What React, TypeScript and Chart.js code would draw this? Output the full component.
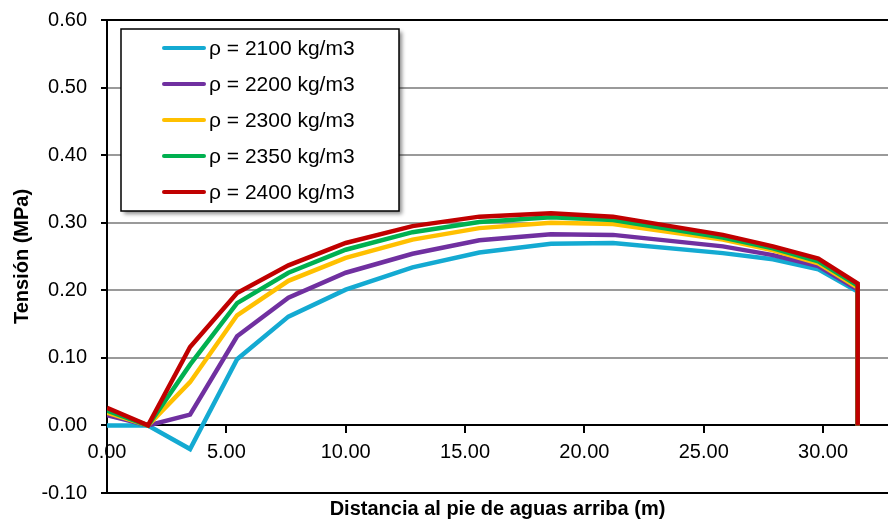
import React, { useEffect, useRef } from "react";
import { Chart, registerables } from "chart.js";

Chart.register(...registerables);

const xValues = [0, 1.72, 3.48, 5.45, 7.6, 10.0, 12.8, 15.6, 18.6, 21.2, 25.8, 27.9, 29.8, 31.45, 31.45];
const rho2100 = [0, 0, -0.035, 0.098, 0.161, 0.201, 0.234, 0.256, 0.269, 0.27, 0.255, 0.246, 0.231, 0.198, 0];
const rho2200 = [0.015, 0, 0.016, 0.132, 0.189, 0.226, 0.254, 0.274, 0.283, 0.282, 0.265, 0.252, 0.236, 0.201, 0];
const rho2300 = [0.019, 0, 0.064, 0.163, 0.214, 0.248, 0.275, 0.292, 0.3, 0.298, 0.275, 0.259, 0.24, 0.204, 0];
const rho2350 = [0.022, 0, 0.09, 0.181, 0.226, 0.26, 0.286, 0.301, 0.308, 0.304, 0.278, 0.262, 0.243, 0.207, 0];
const rho2400 = [0.026, 0, 0.116, 0.196, 0.237, 0.27, 0.295, 0.309, 0.314, 0.309, 0.282, 0.265, 0.247, 0.21, 0];

const seriesLabels = ["ρ = 2100 kg/m3", "ρ = 2200 kg/m3", "ρ = 2300 kg/m3", "ρ = 2350 kg/m3", "ρ = 2400 kg/m3"];
const seriesValues = [rho2100, rho2200, rho2300, rho2350, rho2400];
const seriesColors = ["#14AAD2", "#7030A0", "#FFC000", "#00B050", "#C00000"];

const yTitle = "Tensión (MPa)";
const xTitle = "Distancia al pie de aguas arriba (m)";

const FONT = "'Liberation Sans', Arial, sans-serif";

const fmt = (v: any) => {
  const n = Number(v);
  return (Math.abs(n) < 1e-9 ? 0 : n).toFixed(2);
};

const legendBoxPlugin = {
  id: "legendBox",
  afterDatasetsDraw(chart: any) {
    const ctx = chart.ctx;
    const bx = 121, by = 29, bw = 278, bh = 182;
    ctx.save();
    ctx.shadowColor = "rgba(0,0,0,0.45)";
    ctx.shadowBlur = 4;
    ctx.shadowOffsetX = 3;
    ctx.shadowOffsetY = 3;
    ctx.fillStyle = "#ffffff";
    ctx.fillRect(bx, by, bw, bh);
    ctx.shadowColor = "transparent";
    ctx.lineWidth = 1.5;
    ctx.strokeStyle = "#000";
    ctx.strokeRect(bx, by, bw, bh);
    ctx.font = `21px ${FONT}`;
    ctx.textBaseline = "middle";
    ctx.textAlign = "left";
    chart.data.datasets.forEach((ds: any, i: number) => {
      const y = 48 + i * 36;
      ctx.strokeStyle = ds.borderColor;
      ctx.lineWidth = 4;
      ctx.lineCap = "round";
      ctx.beginPath();
      ctx.moveTo(164, y);
      ctx.lineTo(204, y);
      ctx.stroke();
      ctx.fillStyle = "#000";
      ctx.fillText(ds.label, 209, y + 1);
    });
    ctx.restore();
  },
};

export default function App() {
  const ref = useRef<HTMLCanvasElement>(null);
  useEffect(() => {
    if (!ref.current) return;
    const chart = new Chart(ref.current, {
      type: "line",
      data: {
        datasets: seriesValues.map((vals, i) => ({
          label: seriesLabels[i],
          data: xValues.map((x, j) => ({ x, y: vals[j] })),
          borderColor: seriesColors[i],
          backgroundColor: seriesColors[i],
          borderWidth: 4.5,
          pointRadius: 0,
          tension: 0,
          fill: false,
          order: seriesValues.length - i,
          borderJoinStyle: "miter" as const,
        })),
      },
      options: {
        responsive: false,
        animation: false,
        layout: { padding: { top: 20, right: 0, bottom: 0, left: 0 } },
        plugins: {
          legend: { display: false },
          tooltip: { enabled: false },
          title: {
            display: true,
            position: "bottom",
            fullSize: false,
            text: xTitle,
            color: "#000",
            font: { family: FONT, size: 20, weight: "bold" },
            padding: { top: 4, bottom: 0 },
          },
        },
        scales: {
          x: {
            type: "linear",
            position: { y: 0 } as any,
            min: 0,
            max: 32.72,
            border: { color: "#000", width: 2 },
            grid: { drawOnChartArea: false, color: "#000", tickLength: 7, lineWidth: 2 },
            ticks: {
              stepSize: 5,
              includeBounds: false,
              color: "#000",
              font: { family: FONT, size: 20 },
              padding: 8,
              maxRotation: 0,
              callback: fmt,
            },
          },
          y: {
            type: "linear",
            min: -0.1,
            max: 0.6,
            afterFit: (scale: any) => {
              scale.width = 107;
              scale.paddingTop = 0;
              scale.paddingBottom = 0;
            },
            border: { color: "#000", width: 2 },
            grid: {
              color: (c: any) => {
                const v = c.tick ? c.tick.value : 0;
                if (Math.abs(v - 0.6) < 1e-6 || Math.abs(v + 0.1) < 1e-6 || Math.abs(v) < 1e-6) return "#000";
                return "#9a9a9a";
              },
              lineWidth: 2,
              tickColor: "#000",
              tickLength: 6,
            },
            ticks: {
              stepSize: 0.1,
              color: "#000",
              font: { family: FONT, size: 20 },
              padding: 14,
              callback: fmt,
            },
            title: {
              display: true,
              text: yTitle,
              color: "#000",
              font: { family: FONT, size: 20, weight: "bold" },
              padding: { top: 10, bottom: 0 },
            },
          },
        },
      },
      plugins: [legendBoxPlugin],
    });
    return () => chart.destroy();
  }, []);
  return (
    <div style={{ position: "absolute", left: 0, top: 0, width: 888, height: 521, background: "#fff" }}>
      <canvas ref={ref} width={888} height={521} style={{ display: "block" }} />
    </div>
  );
}
